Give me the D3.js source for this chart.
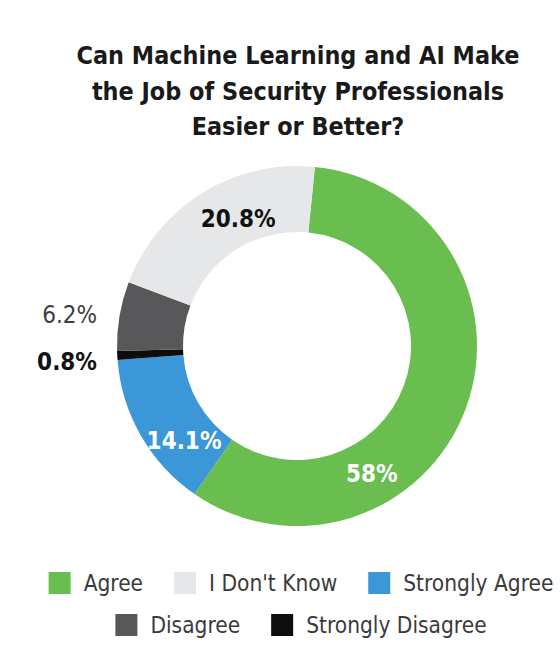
<!DOCTYPE html>
<html><head><meta charset="utf-8">
<script src="https://cdn.jsdelivr.net/npm/d3@7"></script>
<style>body{margin:0;background:#fff}</style>
</head><body><svg id="c" width="560" height="662"></svg>
<script>
// ---- data ----
const titleLines = ["Can Machine Learning and AI Make", "the Job of Security Professionals", "Easier or Better?"];
const categories = ["Agree", "I Don't Know", "Strongly Agree", "Disagree", "Strongly Disagree"];
const values = [58, 20.8, 14.1, 6.2, 0.8];
const valueLabels = ["58%", "20.8%", "14.1%", "6.2%", "0.8%"];
const sliceOrder = ["Agree", "Strongly Agree", "Strongly Disagree", "Disagree", "I Don't Know"];

// ---- style / layout ----
const colors = ["#6abd4f", "#e6e7e8", "#3b97d7", "#58585a", "#0d0d0d"];
const FONT = "'DejaVu Sans Condensed','DejaVu Sans',sans-serif";
const cx = 297, cy = 346, R = 180, r = 114;
const startDeg = 5.7;
const labelLayout = {
  "Agree": {inside: true, ang: 149.6, rad: 148, fill: "#fff", weight: "bold"},
  "I Don't Know": {inside: true, ang: 335.3, rad: 141, fill: "#111", weight: "bold"},
  "Strongly Agree": {inside: true, ang: 230.2, rad: 147, fill: "#fff", weight: "bold"},
  "Disagree": {inside: false, dy: -1.5, fill: "#3c3c3c", weight: "normal"},
  "Strongly Disagree": {inside: false, dy: 6, fill: "#111", weight: "bold"}
};

const svg = d3.select("#c");
const color = d3.scaleOrdinal().domain(categories).range(colors);
const valueOf = new Map(categories.map((c, i) => [c, values[i]]));
const labelOf = new Map(categories.map((c, i) => [c, valueLabels[i]]));

// title
const title = svg.append("g").attr("font-family", FONT).attr("font-weight", "bold")
  .attr("fill", "#1a1a1a").attr("text-anchor", "middle").style("font-stretch", "condensed");
const baselines = [64, 99.5, 135];
const tt = title.selectAll("text").data(titleLines).join("text")
  .attr("x", 298).attr("y", (d, i) => baselines[i]).attr("font-size", 27).text(d => d);
const w0 = tt.nodes()[0].getComputedTextLength();
tt.attr("font-size", 27 * 443 / w0);

// donut
const pie = d3.pie().sort(null).value(d => valueOf.get(d))
  .startAngle(startDeg * Math.PI / 180).endAngle(startDeg * Math.PI / 180 + 2 * Math.PI);
const arcs = pie(sliceOrder);
const arc = d3.arc().innerRadius(r).outerRadius(R);
const g = svg.append("g").attr("transform", `translate(${cx},${cy})`);
g.selectAll("path").data(arcs).join("path")
  .attr("d", arc).attr("fill", d => color(d.data));

// labels
const lab = g.append("g").attr("font-family", FONT).style("font-stretch", "condensed");
arcs.forEach(a => {
  const L = labelLayout[a.data];
  let x, y, anchor;
  if (L.inside) {
    const t = L.ang * Math.PI / 180;
    x = Math.sin(t) * L.rad; y = -Math.cos(t) * L.rad; anchor = "middle";
  } else {
    const t = (a.startAngle + a.endAngle) / 2;
    x = -R - 20; y = -Math.cos(t) * R + L.dy; anchor = "end";
  }
  lab.append("text").attr("x", x).attr("y", y).attr("dy", "0.36em")
    .attr("text-anchor", anchor).attr("font-size", 24)
    .attr("font-weight", L.weight).attr("fill", L.fill).text(labelOf.get(a.data));
});

// legend
const rows = [categories.slice(0, 3), categories.slice(3)];
const rowY = [583, 625];
const box = 22, gapBT = 13, gapItem = 31;
rows.forEach((row, ri) => {
  const lg = svg.append("g");
  let x = 0;
  row.forEach(c => {
    const it = lg.append("g").attr("transform", `translate(${x},0)`);
    it.append("rect").attr("x", 0).attr("y", -box / 2).attr("width", box).attr("height", box).attr("fill", color(c));
    const t = it.append("text").attr("x", box + gapBT).attr("y", 0).attr("dy", "0.36em")
      .attr("font-family", FONT).style("font-stretch", "condensed")
      .attr("font-size", 22.5).attr("fill", "#3a3a3a").text(c);
    x += box + gapBT + t.node().getComputedTextLength() + gapItem;
  });
  const total = x - gapItem;
  lg.attr("transform", `translate(${301 - total / 2},${rowY[ri]})`);
});
</script>
</body></html>
